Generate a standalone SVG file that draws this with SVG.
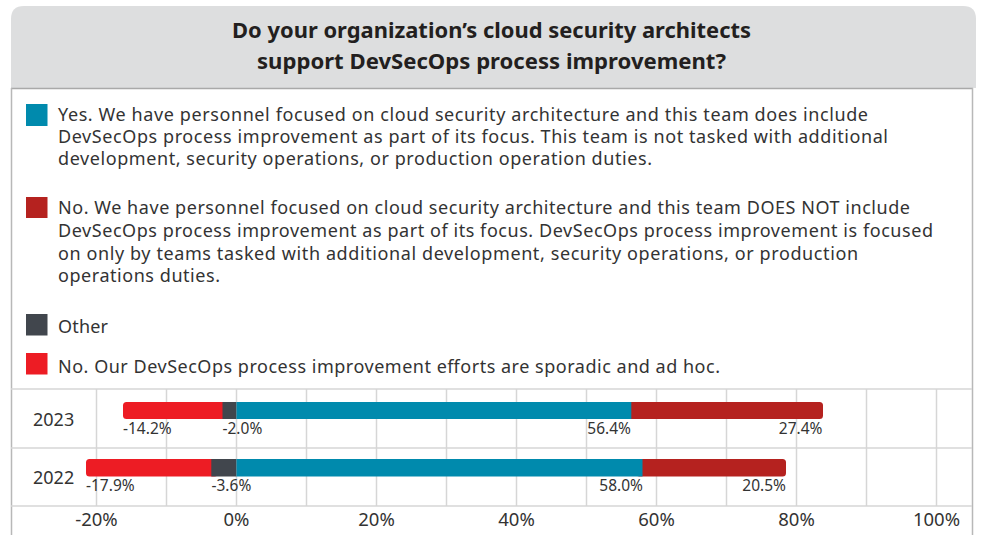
<svg xmlns="http://www.w3.org/2000/svg" width="981" height="535" viewBox="0 0 981 535">
<style>
  .title{font-family:"Noto Sans","Open Sans",sans-serif;font-weight:bold;font-size:21px;fill:#231f20;text-anchor:middle}
  .leg{font-family:"Noto Sans","Open Sans",sans-serif;font-size:18px;fill:#333333}
  .yr{font-family:"Noto Sans","Open Sans",sans-serif;font-size:18px;fill:#333333}
  .val{font-family:"Noto Sans","Open Sans",sans-serif;font-size:15.5px;fill:#333333}
  .ax{font-family:"Noto Sans","Open Sans",sans-serif;font-size:18.5px;fill:#333333;text-anchor:middle}
  .grid{stroke:#d6d6d6;stroke-width:1.5;fill:none}
  .teal{fill:#008aad}
  .dred{fill:#b5221f}
  .gray{fill:#41464d}
  .red{fill:#ed1c24}
</style>
<rect x="0" y="0" width="981" height="535" fill="#ffffff"/>
<g id="header">
  <path d="M11,88 L11,19 Q11,6 24,6 L963,6 Q976,6 976,19 L976,88 Z" fill="#dddedf"/>
  <line x1="11" y1="88.5" x2="973" y2="88.5" stroke="#a9a9a9" stroke-width="1.5"/>
  <text class="title" x="491.5" y="38" textLength="519" lengthAdjust="spacingAndGlyphs">Do your organization’s cloud security architects</text>
  <text class="title" x="491.5" y="69" textLength="469" lengthAdjust="spacingAndGlyphs">support DevSecOps process improvement?</text>
</g>
<g id="frame">
  <line x1="11.5" y1="88" x2="11.5" y2="535" stroke="#b8b8b8" stroke-width="1.5"/>
  <line x1="972.5" y1="88" x2="972.5" y2="535" stroke="#b8b8b8" stroke-width="1.5"/>
</g>
<g id="legend-yes">
  <rect class="teal" x="26" y="104" width="21.5" height="22"/>
  <text class="leg" x="58" y="121" textLength="810">Yes. We have personnel focused on cloud security architecture and this team does include</text>
  <text class="leg" x="58" y="143" textLength="830">DevSecOps process improvement as part of its focus. This team is not tasked with additional</text>
  <text class="leg" x="58" y="165" textLength="594">development, security operations, or production operation duties.</text>
</g>
<g id="legend-no">
  <rect class="dred" x="26" y="197" width="21.5" height="21"/>
  <text class="leg" x="58" y="214" textLength="852">No. We have personnel focused on cloud security architecture and this team DOES NOT include</text>
  <text class="leg" x="58" y="237" textLength="875">DevSecOps process improvement as part of its focus. DevSecOps process improvement is focused</text>
  <text class="leg" x="58" y="260" textLength="800">on only by teams tasked with additional development, security operations, or production</text>
  <text class="leg" x="58" y="282" textLength="162">operations duties.</text>
</g>
<g id="legend-other">
  <rect class="gray" x="26" y="314" width="21.5" height="21.5"/>
  <text class="leg" x="58" y="333" textLength="50">Other</text>
</g>
<g id="legend-adhoc">
  <rect class="red" x="26" y="353" width="21.5" height="21.5"/>
  <text class="leg" x="58" y="373" textLength="662">No. Our DevSecOps process improvement efforts are sporadic and ad hoc.</text>
</g>
<g id="grid">
  <line class="grid" x1="11" y1="389" x2="972" y2="389"/>
  <line class="grid" x1="11" y1="448" x2="972" y2="448"/>
  <line class="grid" x1="11" y1="506" x2="972" y2="506"/>
  <line class="grid" x1="96.5" y1="389" x2="96.5" y2="506"/>
  <line class="grid" x1="166.5" y1="389" x2="166.5" y2="506"/>
  <line class="grid" x1="236.5" y1="389" x2="236.5" y2="506"/>
  <line class="grid" x1="306.5" y1="389" x2="306.5" y2="506"/>
  <line class="grid" x1="376.5" y1="389" x2="376.5" y2="506"/>
  <line class="grid" x1="446.5" y1="389" x2="446.5" y2="506"/>
  <line class="grid" x1="516.5" y1="389" x2="516.5" y2="506"/>
  <line class="grid" x1="586.5" y1="389" x2="586.5" y2="506"/>
  <line class="grid" x1="656.5" y1="389" x2="656.5" y2="506"/>
  <line class="grid" x1="726.5" y1="389" x2="726.5" y2="506"/>
  <line class="grid" x1="796.5" y1="389" x2="796.5" y2="506"/>
  <line class="grid" x1="866.5" y1="389" x2="866.5" y2="506"/>
  <line class="grid" x1="936.5" y1="389" x2="936.5" y2="506"/>
</g>
<g id="bar-2023">
  <text class="yr" x="33" y="426">2023</text>
  <rect class="red" x="123" y="402" width="106" height="17" rx="3.5"/>
  <rect class="gray" x="222.5" y="402" width="14" height="17"/>
  <rect class="dred" x="624" y="402" width="199" height="17" rx="3.5"/>
  <rect class="teal" x="236.5" y="402" width="394.8" height="17"/>
  <text class="val" x="123" y="433.5">-14.2%</text>
  <text class="val" x="222.5" y="433.5">-2.0%</text>
  <text class="val" x="631" y="433.5" text-anchor="end">56.4%</text>
  <text class="val" x="822.5" y="433.5" text-anchor="end">27.4%</text>
</g>
<g id="bar-2022">
  <text class="yr" x="33" y="483.5">2022</text>
  <rect class="red" x="86" y="459" width="132" height="17.5" rx="3.5"/>
  <rect class="gray" x="211.3" y="459" width="25.2" height="17.5"/>
  <rect class="dred" x="636" y="459" width="150" height="17.5" rx="3.5"/>
  <rect class="teal" x="236.5" y="459" width="406" height="17.5"/>
  <text class="val" x="86" y="491">-17.9%</text>
  <text class="val" x="211.5" y="491">-3.6%</text>
  <text class="val" x="643" y="491" text-anchor="end">58.0%</text>
  <text class="val" x="786" y="491" text-anchor="end">20.5%</text>
</g>
<g id="axis">
  <text class="ax" x="96.5" y="526">-20%</text>
  <text class="ax" x="236.5" y="526">0%</text>
  <text class="ax" x="376.5" y="526">20%</text>
  <text class="ax" x="516.5" y="526">40%</text>
  <text class="ax" x="656.5" y="526">60%</text>
  <text class="ax" x="796.5" y="526">80%</text>
  <text class="ax" x="936.5" y="526">100%</text>
</g>
</svg>
